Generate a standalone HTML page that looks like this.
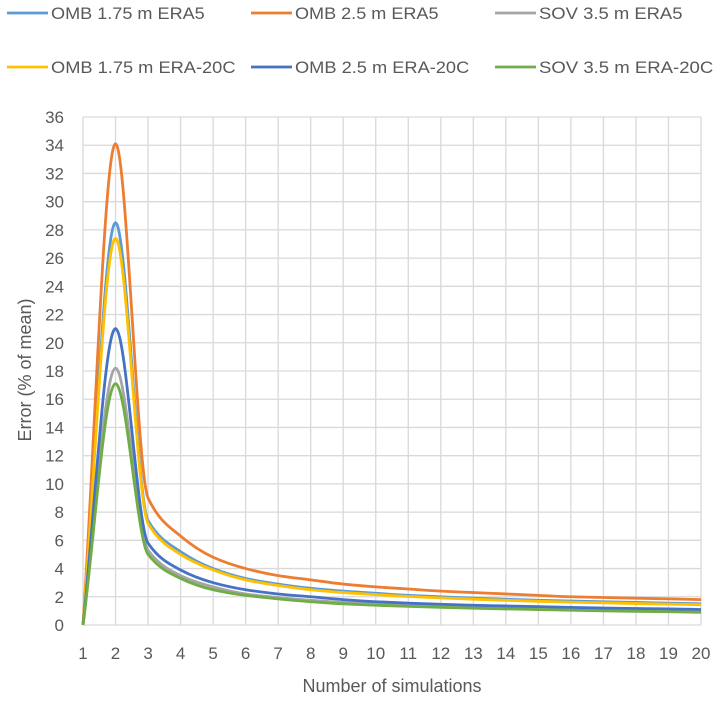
<!DOCTYPE html>
<html><head><meta charset="utf-8"><style>
body{margin:0;background:#fff;}
svg text{font-family:"Liberation Sans",sans-serif;fill:#595959;}
</style></head><body>
<svg id="c" width="720" height="700"></svg>
<script>
const categories=[1,2,3,4,5,6,7,8,9,10,11,12,13,14,15,16,17,18,19,20];
const yTicks=[0,2,4,6,8,10,12,14,16,18,20,22,24,26,28,30,32,34,36];
const seriesNames=["OMB 1.75 m ERA5","OMB 2.5 m ERA5","SOV 3.5 m ERA5","OMB 1.75 m ERA-20C","OMB 2.5 m ERA-20C","SOV 3.5 m ERA-20C"];
const seriesColors=["#5b9bd5","#ed7d31","#a5a5a5","#ffc000","#4472c4","#70ad47"];
const omb175era5=[0,28.5,7.4,5.2,4.0,3.3,2.9,2.6,2.4,2.25,2.1,2.0,1.9,1.82,1.75,1.7,1.65,1.6,1.55,1.5];
const omb25era5=[0,34.1,9.0,6.3,4.8,4.0,3.5,3.2,2.9,2.7,2.55,2.4,2.3,2.2,2.1,2.0,1.95,1.9,1.85,1.8];
const sov35era5=[0,18.2,5.3,3.5,2.7,2.2,1.95,1.75,1.6,1.5,1.42,1.35,1.28,1.22,1.17,1.12,1.08,1.05,1.02,1.0];
const omb175era20c=[0,27.4,7.2,5.0,3.9,3.2,2.8,2.5,2.3,2.15,2.02,1.92,1.83,1.75,1.68,1.62,1.57,1.52,1.48,1.44];
const omb25era20c=[0,21.0,5.8,3.9,3.0,2.5,2.2,2.0,1.8,1.65,1.55,1.47,1.4,1.35,1.3,1.25,1.2,1.17,1.14,1.1];
const sov35era20c=[0,17.1,5.0,3.3,2.5,2.1,1.85,1.65,1.5,1.4,1.32,1.25,1.19,1.14,1.09,1.05,1.0,0.97,0.94,0.9];
const seriesData=[omb175era5,omb25era5,sov35era5,omb175era20c,omb25era20c,sov35era20c];
const NS="http://www.w3.org/2000/svg",svg=document.getElementById('c');
const X0=83,X1=701,Y0=625,Y1=117;
const xs=v=>X0+(v-1)*(X1-X0)/19, ys=v=>Y0-v*(Y0-Y1)/36;
function el(t,a,p){const e=document.createElementNS(NS,t);for(const k in a)e.setAttribute(k,a[k]);(p||svg).appendChild(e);return e;}
yTicks.forEach(t=>{
  const l=el('line',{x1:X0,x2:X1,y1:ys(t),y2:ys(t),stroke:'#d9d9d9','stroke-width':1.3});
  
  
  const tx=el('text',{x:64,y:ys(t)+6,'text-anchor':'end','font-size':17});tx.textContent=t;
  
  
});
categories.forEach(c=>{
  const l=el('line',{x1:xs(c),x2:xs(c),y1:Y1,y2:Y0,stroke:'#d9d9d9','stroke-width':1.3});
  
  
  const tx=el('text',{x:xs(c),y:659,'text-anchor':'middle','font-size':17});tx.textContent=c;
  
  
});
function monotone(pts){
  const n=pts.length,d=[],m=[];
  for(let i=0;i<n-1;i++)d.push((pts[i+1][1]-pts[i][1])/(pts[i+1][0]-pts[i][0]));
  m[0]=d[0];m[n-1]=d[n-2];
  for(let i=1;i<n-1;i++)m[i]=(d[i-1]*d[i]<=0)?0:2/(1/d[i-1]+1/d[i]);
  let s=`M${pts[0][0]},${pts[0][1]}`;
  for(let i=0;i<n-1;i++){const h=(pts[i+1][0]-pts[i][0])/3;
    s+=`C${pts[i][0]+h},${pts[i][1]+m[i]*h} ${pts[i+1][0]-h},${pts[i+1][1]-m[i+1]*h} ${pts[i+1][0]},${pts[i+1][1]}`;}
  return s;
}
seriesData.forEach((s,i)=>{
  const p=el('path',{d:monotone(s.map((v,j)=>[xs(categories[j]),ys(v)])),fill:'none',stroke:seriesColors[i],'stroke-width':2.8,'stroke-linejoin':'round'});
  
  
});
const legX=[7,251,495];
seriesNames.forEach((n,i)=>{
  const x=legX[i%3],y=i<3?13:67;
  const g=el('g',{});
  
  
  el('line',{x1:x,x2:x+41,y1:y,y2:y,stroke:seriesColors[i],'stroke-width':2.8},g);
  const t=el('text',{x:x+44,y:y+6,'font-size':17,textLength:n.length*10.25,lengthAdjust:'spacingAndGlyphs'},g);t.textContent=n;
});
const xt=el('text',{x:392,y:692,'text-anchor':'middle','font-size':18});xt.textContent='Number of simulations';


const yt=el('text',{x:0,y:0,'text-anchor':'middle','font-size':18,transform:'translate(31,370) rotate(-90)'});yt.textContent='Error (% of mean)';


</script>
</body></html>
